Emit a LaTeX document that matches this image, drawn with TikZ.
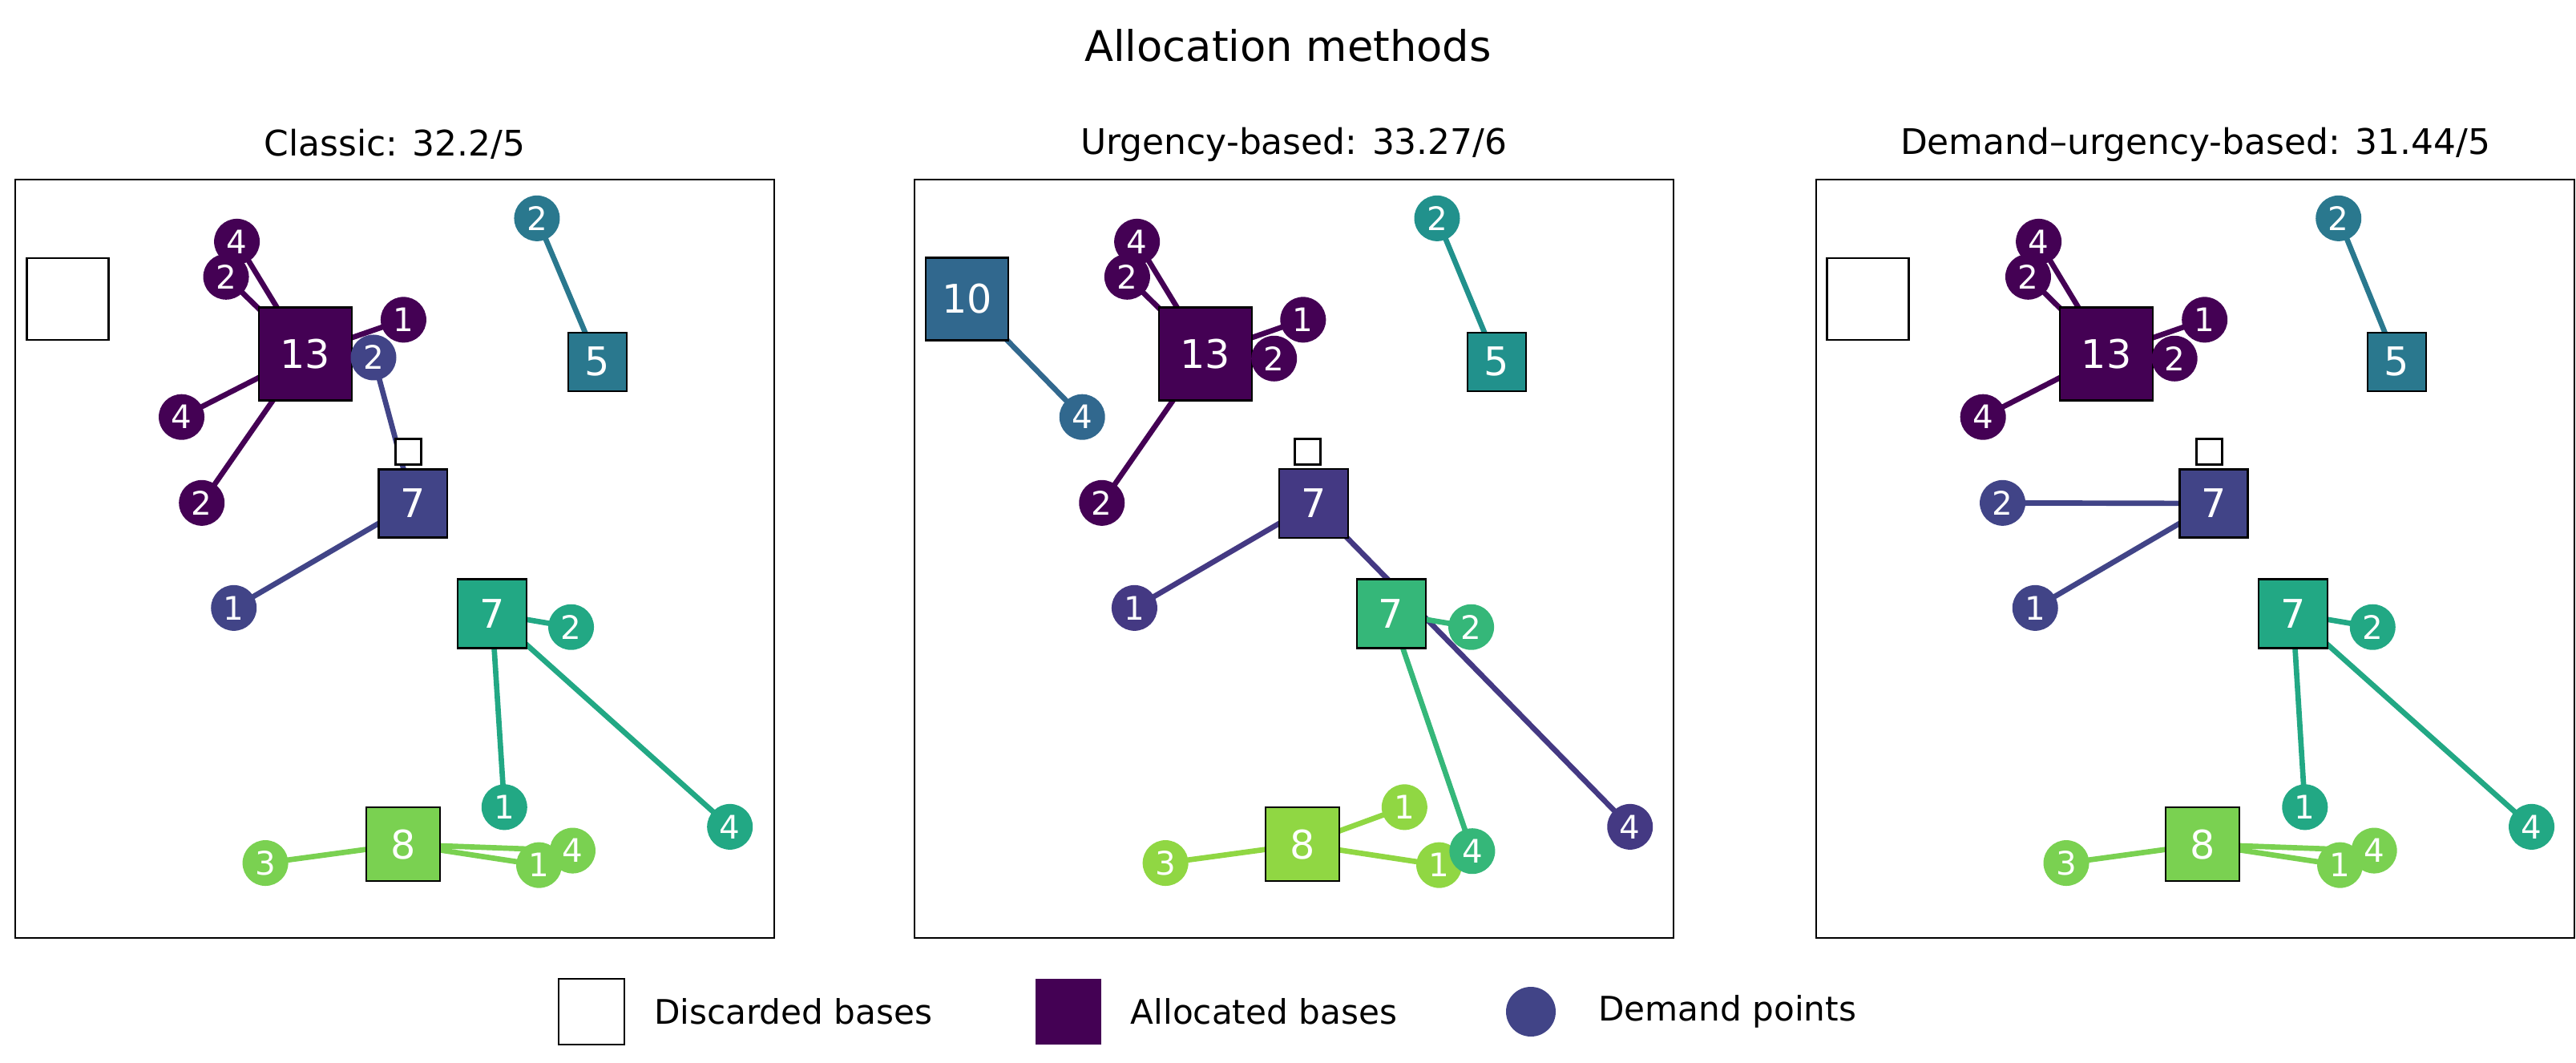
\documentclass[tikz,border=0pt]{standalone}
\usepackage{fontspec}
\setmainfont{DejaVu Sans}
\usetikzlibrary{positioning,backgrounds}
\definecolor{vpurple}{HTML}{440154}
\definecolor{vblue}{HTML}{414487}
\definecolor{vblueb}{HTML}{443983}
\definecolor{vteal}{HTML}{2A788E}
\definecolor{vtealb}{HTML}{21918C}
\definecolor{vsteel}{HTML}{31688E}
\definecolor{vgreen}{HTML}{22A884}
\definecolor{vgreenb}{HTML}{35B779}
\definecolor{vlime}{HTML}{7AD151}
\definecolor{vlimeb}{HTML}{90D743}

\begin{document}
\begin{tikzpicture}[
        basenode/.style={draw=black, line width=0.6pt, fill=#1, text=white, inner sep=0pt, font=\fontsize{14}{14}\selectfont},
        cutnode/.style={draw=black, line width=0.8pt, fill=white, inner sep=0pt},
        pointnode/.style={circle, fill=#1, text=white, minimum size=0.57cm, inner sep=0pt, font=\fontsize{11.5}{11.5}\selectfont},
        link/.style={line width=1.9pt, draw=#1},
        panel/.style={x=0.00645cm, y=-0.00645cm}]
        \useasboundingbox (0,0) rectangle (32.14,-13.26);
        \node (maintitle) at (16.07,-0.57) {\fontsize{15}{15}\selectfont Allocation methods};
        % classic
        \draw[line width=0.8pt] (0.19,-2.24) rectangle (9.66,-11.70);
        \node (ttlA) at (4.925,-1.80) {\fontsize{12.5}{12.5}\selectfont Classic: 32.2/5};
        \begin{scope}[panel, shift={(0,310)}]
        \node[cutnode, minimum size=1.02cm] (aX1) at (131,268) {};
        \node[cutnode, minimum size=0.32cm] (aX2) at (789,563) {};
        \node[basenode=vpurple, minimum size=1.16cm] (a13) at (590,374) {13};
        \node[basenode=vteal, minimum size=0.73cm] (a5) at (1155,389) {5};
        \node[basenode=vblue, minimum size=0.85cm] (a7) at (798,663) {7};
        \node[basenode=vgreen, minimum size=0.86cm] (a7g) at (951,876) {7};
        \node[basenode=vlime, minimum size=0.92cm] (a8) at (779,1322) {8};
        \node[pointnode=vpurple] (ap4a) at (458,157) {4};
        \node[pointnode=vpurple] (ap2a) at (437,225) {2};
        \node[pointnode=vpurple] (ap1) at (780,308) {1};
        \node[pointnode=vpurple] (ap4b) at (351,496) {4};
        \node[pointnode=vpurple] (ap2b) at (390,662) {2};
        \node[pointnode=vblue] (ab2) at (722,381) {2};
        \node[pointnode=vblue] (ab1) at (452,865) {1};
        \node[pointnode=vteal] (at2) at (1038,112) {2};
        \node[pointnode=vgreen] (ag2) at (1104,902) {2};
        \node[pointnode=vgreen] (ag1) at (975,1250) {1};
        \node[pointnode=vgreen] (ag4) at (1411,1288) {4};
        \node[pointnode=vlime] (al3) at (513,1358) {3};
        \node[pointnode=vlime] (al4) at (1107,1334) {4};
        \node[pointnode=vlime] (al1) at (1042,1362) {1};
        \begin{scope}[on background layer]
        \draw[link=vpurple] (a13.center) -- (ap4a.center) (a13.center) -- (ap2a.center) (a13.center) -- (ap1.center) (a13.center) -- (ap4b.center) (a13.center) -- (ap2b.center);
        \draw[link=vblue] (a7.center) -- (ab2.center) (a7.center) -- (ab1.center);
        \draw[link=vteal] (a5.center) -- (at2.center);
        \draw[link=vgreen] (a7g.center) -- (ag2.center) (a7g.center) -- (ag1.center) (a7g.center) -- (ag4.center);
        \draw[link=vlime] (a8.center) -- (al3.center) (a8.center) -- (al4.center) (a8.center) -- (al1.center);
        \end{scope}
        \end{scope}
        % urgency
        \draw[line width=0.8pt] (11.41,-2.24) rectangle (20.88,-11.70);
        \node (ttlB) at (16.145,-1.80) {\fontsize{12.5}{12.5}\selectfont Urgency-based: 33.27/6};
        \begin{scope}[panel, shift={(1736,310)}]
        \node[cutnode, minimum size=0.32cm] (bX2) at (792,563) {};
        \node[basenode=vsteel, minimum size=1.03cm] (b10) at (133,268) {10};
        \node[basenode=vpurple, minimum size=1.16cm] (b13) at (594,374) {13};
        \node[basenode=vtealb, minimum size=0.73cm] (b5) at (1157,389) {5};
        \node[basenode=vblueb, minimum size=0.86cm] (b7) at (803,663) {7};
        \node[basenode=vgreenb, minimum size=0.86cm] (b7g) at (953,876) {7};
        \node[basenode=vlimeb, minimum size=0.92cm] (b8) at (782,1322) {8};
        \node[pointnode=vpurple] (bp4) at (462,157) {4};
        \node[pointnode=vpurple] (bp2a) at (443,225) {2};
        \node[pointnode=vpurple] (bp1) at (783,308) {1};
        \node[pointnode=vpurple] (bp2b) at (727,383) {2};
        \node[pointnode=vpurple] (bp2c) at (394,662) {2};
        \node[pointnode=vsteel] (bs4) at (356,496) {4};
        \node[pointnode=vtealb] (bt2) at (1042,112) {2};
        \node[pointnode=vblueb] (bb1) at (457,865) {1};
        \node[pointnode=vblueb] (bb4) at (1415,1288) {4};
        \node[pointnode=vgreenb] (bg2) at (1108,902) {2};
        \node[pointnode=vlimeb] (bl1a) at (979,1250) {1};
        \node[pointnode=vlimeb] (bl1b) at (1046,1362) {1};
        \node[pointnode=vgreenb] (bg4) at (1110,1335) {4};
        \node[pointnode=vlimeb] (bl3) at (517,1358) {3};
        \begin{scope}[on background layer]
        \draw[link=vpurple] (b13.center) -- (bp4.center) (b13.center) -- (bp2a.center) (b13.center) -- (bp1.center) (b13.center) -- (bp2b.center) (b13.center) -- (bp2c.center);
        \draw[link=vsteel] (b10.center) -- (bs4.center);
        \draw[link=vtealb] (b5.center) -- (bt2.center);
        \draw[link=vblueb] (b7.center) -- (bb1.center) (b7.center) -- (bb4.center);
        \draw[link=vgreenb] (b7g.center) -- (bg2.center) (b7g.center) -- (bg4.center);
        \draw[link=vlimeb] (b8.center) -- (bl1a.center) (b8.center) -- (bl1b.center) (b8.center) -- (bl3.center);
        \end{scope}
        \end{scope}
        % demand-urgency
        \draw[line width=0.8pt] (22.66,-2.24) rectangle (32.12,-11.70);
        \node (ttlC) at (27.39,-1.80) {\fontsize{12.5}{12.5}\selectfont Demand–urgency-based: 31.44/5};
        \begin{scope}[panel, x=0.00625cm, shift={(3592,310)}]
        \node[cutnode, minimum size=1.02cm] (cX1) at (133,268) {};
        \node[cutnode, minimum size=0.32cm] (cX2) at (814,563) {};
        \node[basenode=vpurple, minimum size=1.16cm] (c13) at (609,374) {13};
        \node[basenode=vteal, minimum size=0.73cm] (c5) at (1188,389) {5};
        \node[basenode=vblue, minimum size=0.85cm] (c7) at (823,663) {7};
        \node[basenode=vgreen, minimum size=0.86cm] (c7g) at (981,876) {7};
        \node[basenode=vlime, minimum size=0.92cm] (c8) at (801,1322) {8};
        \node[pointnode=vpurple] (cp4a) at (474,157) {4};
        \node[pointnode=vpurple] (cp2a) at (453,225) {2};
        \node[pointnode=vpurple] (cp1) at (805,308) {1};
        \node[pointnode=vpurple] (cp2b) at (745,383) {2};
        \node[pointnode=vpurple] (cp4b) at (363,496) {4};
        \node[pointnode=vteal] (ct2) at (1072,112) {2};
        \node[pointnode=vblue] (cb2) at (402,662) {2};
        \node[pointnode=vblue] (cb1) at (467,865) {1};
        \node[pointnode=vgreen] (cg2) at (1140,902) {2};
        \node[pointnode=vgreen] (cg1) at (1005,1250) {1};
        \node[pointnode=vgreen] (cg4) at (1457,1288) {4};
        \node[pointnode=vlime] (cl3) at (529,1358) {3};
        \node[pointnode=vlime] (cl4) at (1143,1334) {4};
        \node[pointnode=vlime] (cl1) at (1075,1362) {1};
        \begin{scope}[on background layer]
        \draw[link=vpurple] (c13.center) -- (cp4a.center) (c13.center) -- (cp2a.center) (c13.center) -- (cp1.center) (c13.center) -- (cp2b.center) (c13.center) -- (cp4b.center);
        \draw[link=vblue] (c7.center) -- (cb2.center) (c7.center) -- (cb1.center);
        \draw[link=vteal] (c5.center) -- (ct2.center);
        \draw[link=vgreen] (c7g.center) -- (cg2.center) (c7g.center) -- (cg1.center) (c7g.center) -- (cg4.center);
        \draw[link=vlime] (c8.center) -- (cl3.center) (c8.center) -- (cl4.center) (c8.center) -- (cl1.center);
        \end{scope}
        \end{scope}
        % legend
        \node[cutnode, minimum size=0.82cm] (keycut) at (7.38,-12.62) {};
        \node[right=0.35cm of keycut, inner sep=0pt] (keycuttxt) {\fontsize{12}{12}\selectfont Discarded bases};
        \node[basenode=vpurple, minimum size=0.82cm, draw=none] (keybase) at (13.33,-12.62) {};
        \node[right=0.35cm of keybase, inner sep=0pt] (keybasetxt) {\fontsize{12}{12}\selectfont Allocated bases};
        \node[pointnode=vblue, minimum size=0.62cm] (keypoint) at (19.10,-12.62) {};
        \node[right=0.52cm of keypoint, inner sep=0pt] (keypointtxt) {\fontsize{12}{12}\selectfont Demand points};
\end{tikzpicture}
\end{document}
